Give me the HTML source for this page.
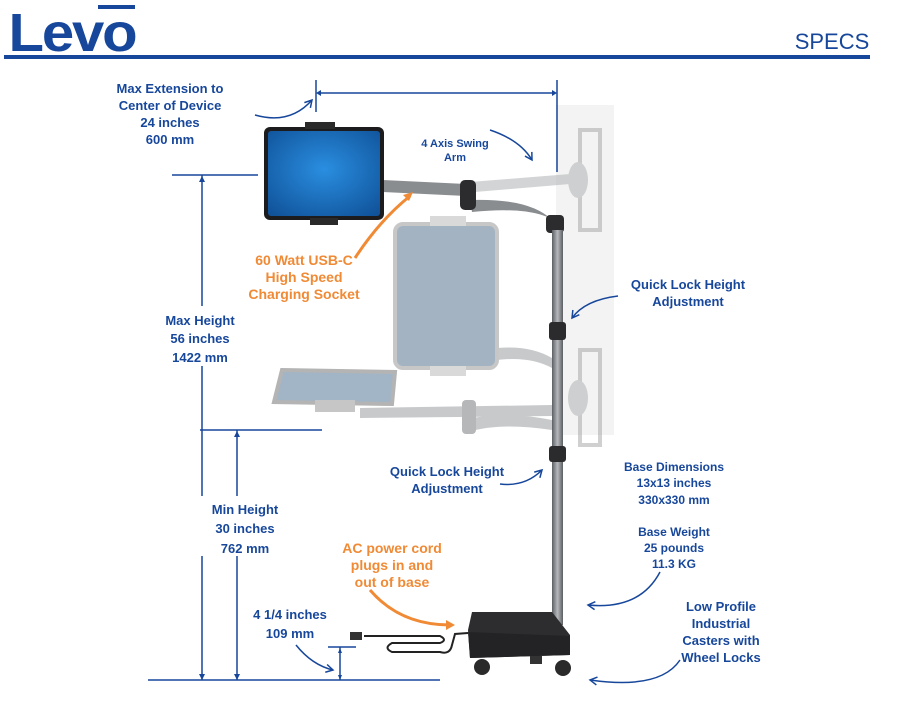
<!DOCTYPE html>
<html><head><meta charset="utf-8"><style>
html,body{margin:0;padding:0;background:#fff}
svg{display:block}
text{font-family:"Liberation Sans",sans-serif;font-weight:bold;fill:#17479b;text-anchor:middle}
.o{fill:#f08a35}
</style></head><body>
<svg width="904" height="710" viewBox="0 0 904 710" xmlns="http://www.w3.org/2000/svg">
<defs>
<radialGradient id="scr" cx="0.5" cy="0.45" r="0.7"><stop offset="0" stop-color="#2a8ee0"/><stop offset="1" stop-color="#10539a"/></radialGradient>
<linearGradient id="pole" x1="0" x2="1"><stop offset="0" stop-color="#5b5e62"/><stop offset="0.5" stop-color="#b6b9bc"/><stop offset="1" stop-color="#5b5e62"/></linearGradient>
<marker id="ah" markerWidth="10" markerHeight="10" refX="8" refY="5" orient="auto" markerUnits="userSpaceOnUse"><path d="M1 1 L8 5 L1 9" fill="none" stroke="#17479b" stroke-width="1.5"/></marker>
</defs>
<!-- header -->
<text x="72" y="51" style="font-size:54px;font-weight:bold;letter-spacing:-2px" textLength="127" lengthAdjust="spacingAndGlyphs">Levo</text>
<rect x="98" y="5" width="37" height="4" fill="#17479b"/>
<rect x="4" y="55" width="866" height="4" fill="#17479b"/>
<text x="832" y="49" style="font-size:22px;font-weight:normal">SPECS</text>

<rect x="556" y="105" width="58" height="330" fill="#f3f3f3"/>

<g stroke="#17479b" stroke-width="1.5" fill="none">
<line x1="316" y1="80" x2="316" y2="112"/>
<line x1="557" y1="80" x2="557" y2="172"/>
<line x1="318" y1="93" x2="555" y2="93"/>
<line x1="172" y1="175" x2="258" y2="175"/>
<line x1="202" y1="175" x2="202" y2="680"/>
<line x1="200" y1="430" x2="322" y2="430"/>
<line x1="237" y1="430" x2="237" y2="680"/>
<line x1="148" y1="680" x2="440" y2="680"/>
<line x1="328" y1="647" x2="356" y2="647"/>
<line x1="340" y1="647" x2="340" y2="680"/>
</g>
<g stroke="#17479b" stroke-width="1.5" fill="none" marker-end="url(#ah)">
<path d="M255 115 Q290 125 312 100"/>
<path d="M490 130 Q520 140 532 160"/>
<path d="M618 296 Q585 300 572 318"/>
<path d="M500 484 Q525 487 542 470"/>
<path d="M660 572 Q640 610 588 605"/>
<path d="M680 660 Q660 690 590 680"/>
<path d="M296 645 Q312 665 333 670"/>
</g>
<g fill="#17479b">
<path d="M316 93 l5 -3 v6z"/><path d="M557 93 l-5 -3 v6z"/>
<path d="M202 176 l-3 6 h6z"/><path d="M237 431 l-3 6 h6z"/>
<path d="M202 680 l-3 -6 h6z"/><path d="M237 680 l-3 -6 h6z"/>
<path d="M340 648 l-2 5 h4z"/><path d="M340 680 l-2 -5 h4z"/>
</g>
<rect x="150" y="306" width="100" height="60" fill="#fff"/>
<rect x="200" y="496" width="90" height="60" fill="#fff"/>

<g opacity="0.55">
<path d="M360 408 L552 405 L552 416 L360 418Z" fill="#9a9da0"/>
<path d="M465 420 Q500 410 552 420 L552 430 Q500 422 468 432Z" fill="#9a9da0"/>
<rect x="462" y="400" width="14" height="34" rx="4" fill="#7a7d80"/>
<path d="M282 370 L395 372 L392 404 L274 402Z" fill="#557a98" stroke="#777" stroke-width="4"/>
<rect x="315" y="400" width="40" height="12" fill="#999"/>
<path d="M497 348 Q530 345 552 358 L552 368 Q530 356 497 360Z" fill="#9a9da0"/>
<rect x="395" y="224" width="102" height="144" rx="8" fill="#5a7690" stroke="#9a9a9a" stroke-width="4"/>
<rect x="430" y="216" width="36" height="10" fill="#bbb"/>
<rect x="430" y="366" width="36" height="10" fill="#bbb"/>
<g fill="#b0b2b4">
<rect x="580" y="130" width="20" height="100" fill="none" stroke="#aaa" stroke-width="4"/>
<ellipse cx="578" cy="180" rx="10" ry="18"/>
<rect x="580" y="350" width="20" height="95" fill="none" stroke="#aaa" stroke-width="4"/>
<ellipse cx="578" cy="398" rx="10" ry="18"/>
<path d="M470 182 L570 174 L570 184 L475 192Z"/>
</g>
</g>

<path d="M383 180 L466 184 L466 196 L383 192Z" fill="#8a8d90"/>
<path d="M470 200 Q530 198 552 220 L562 226 Q540 205 472 212Z" fill="#8a8d90"/>
<rect x="460" y="180" width="16" height="30" rx="5" fill="#2c2c2e"/>
<rect x="546" y="215" width="18" height="18" rx="4" fill="#2c2c2e"/>
<rect x="552" y="230" width="11" height="395" fill="url(#pole)"/>
<rect x="549" y="322" width="17" height="18" rx="3" fill="#2b2b2d"/>
<rect x="549" y="446" width="17" height="16" rx="3" fill="#2b2b2d"/>
<rect x="264" y="127" width="120" height="93" rx="6" fill="#1c1c1e"/>
<rect x="268" y="131" width="112" height="85" rx="3" fill="url(#scr)"/>
<rect x="305" y="122" width="30" height="7" fill="#2a2a2a"/>
<rect x="310" y="218" width="28" height="7" fill="#2a2a2a"/>
<path d="M472 612 L552 612 L570 635 L570 655 L470 658 L468 630Z" fill="#2d2d2f"/>
<path d="M468 632 L570 636 L570 655 L470 658Z" fill="#232325"/>
<circle cx="482" cy="667" r="8" fill="#2a2a2a"/>
<circle cx="563" cy="668" r="8" fill="#2a2a2a"/>
<rect x="530" y="656" width="12" height="8" fill="#333"/>
<path d="M468 633 L455 634 L452 645 Q450 655 440 652 L392 652 Q383 648 392 643 L440 643 Q448 640 440 636 L364 636" stroke="#222" stroke-width="2" fill="none"/>
<rect x="350" y="632" width="12" height="8" fill="#333"/>

<g stroke="#f08a35" stroke-width="3" fill="none">
<path d="M355 258 Q380 220 410 196"/>
<path d="M370 590 Q400 625 450 625"/>
</g>
<path d="M413 192 l-10 3 l6 6z" fill="#f08a35"/>
<path d="M455 625 l-9 -5 v10z" fill="#f08a35"/>

<g style="font-size:13px">
<text x="170" y="93">Max Extension to</text>
<text x="170" y="110">Center of Device</text>
<text x="170" y="127">24 inches</text>
<text x="170" y="144">600 mm</text>
<text x="200" y="325">Max Height</text>
<text x="200" y="343">56 inches</text>
<text x="200" y="362">1422 mm</text>
<text x="245" y="514">Min Height</text>
<text x="245" y="533">30 inches</text>
<text x="245" y="553">762 mm</text>
<text x="290" y="619">4 1/4 inches</text>
<text x="290" y="638">109 mm</text>
<text x="688" y="289">Quick Lock Height</text>
<text x="688" y="306">Adjustment</text>
<text x="447" y="476">Quick Lock Height</text>
<text x="447" y="493">Adjustment</text>
<text x="721" y="611">Low Profile</text>
<text x="721" y="628">Industrial</text>
<text x="721" y="645">Casters with</text>
<text x="721" y="662">Wheel Locks</text>
</g>
<g style="font-size:12px">
<text x="674" y="471">Base Dimensions</text>
<text x="674" y="487">13x13 inches</text>
<text x="674" y="504">330x330 mm</text>
<text x="674" y="536">Base Weight</text>
<text x="674" y="552">25 pounds</text>
<text x="674" y="568">11.3 KG</text>
</g>
<g style="font-size:11px">
<text x="455" y="147">4 Axis Swing</text>
<text x="455" y="161">Arm</text>
</g>
<g style="font-size:14px">
<text class="o" x="304" y="265">60 Watt USB-C</text>
<text class="o" x="304" y="282">High Speed</text>
<text class="o" x="304" y="299">Charging Socket</text>
<text class="o" x="392" y="553">AC power cord</text>
<text class="o" x="392" y="570">plugs in and</text>
<text class="o" x="392" y="587">out of base</text>
</g>
</svg>
</body></html>
